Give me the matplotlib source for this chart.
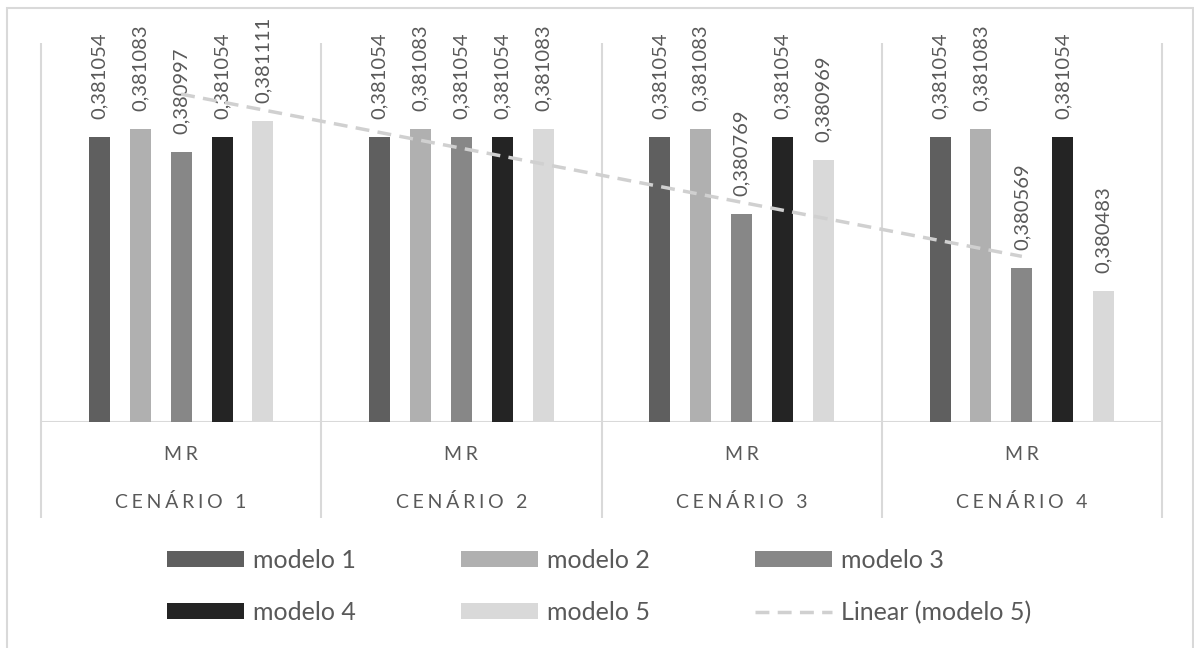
import matplotlib
matplotlib.use('Agg')
import matplotlib.pyplot as plt
import numpy as np
from matplotlib.patches import Rectangle

cenarios = ['CENÁRIO 1', 'CENÁRIO 2', 'CENÁRIO 3', 'CENÁRIO 4']
metrica = 'MR'
modelos = ['modelo 1', 'modelo 2', 'modelo 3', 'modelo 4', 'modelo 5']
modelo_1 = [0.381054, 0.381054, 0.381054, 0.381054]
modelo_2 = [0.381083, 0.381083, 0.381083, 0.381083]
modelo_3 = [0.380997, 0.381054, 0.380769, 0.380569]
modelo_4 = [0.381054, 0.381054, 0.381054, 0.381054]
modelo_5 = [0.381111, 0.381083, 0.380969, 0.380483]

cores = ['#5f5f5f', '#b0b0b0', '#878787', '#242424', '#d9d9d9']
cinza_texto = '#595959'
cinza_linha = '#d9d9d9'

plt.rcParams['font.family'] = ['Lato', 'DejaVu Sans']

fig = plt.figure(figsize=(11.94, 6.48), dpi=100)
ax = fig.add_axes([41 / 1194, 1 - 422 / 648, (1162 - 41) / 1194, (422 - 43) / 648])

x = np.arange(len(cenarios))
series = [modelo_1, modelo_2, modelo_3, modelo_4, modelo_5]
passo = 0.146
largura = 0.075
barras = []
for i, (vals, cor) in enumerate(zip(series, cores)):
    pos = x + (i - 2) * passo
    b = ax.bar(pos, vals, width=largura, color=cor, zorder=2)
    barras.append(b)
    for xp, v in zip(pos, vals):
        ax.annotate(f'{v:.6f}'.replace('.', ','), (xp, v), xytext=(0, 13),
                    textcoords='offset points', rotation=90, ha='center',
                    va='bottom', fontsize=14.5, color=cinza_texto,
                    annotation_clip=False)

# linha de tendencia linear do modelo 5
coef = np.polyfit(x + 1, modelo_5, 1)
tend = np.polyval(coef, x + 1)
linha, = ax.plot(x, tend, color='#d0d0d0', lw=2.5, dashes=(4, 2.4), zorder=3)

ax.set_xlim(-0.5, 3.5)
ax.set_ylim(0.38, 0.3814)
for s in ax.spines.values():
    s.set_visible(False)
ax.set_xticks([])
ax.set_yticks([])

ax.axhline(0.38, color=cinza_linha, lw=1.5, zorder=1)
ax.vlines(np.arange(len(cenarios) + 1) - 0.5, -0.253, 1,
          transform=ax.get_xaxis_transform(), color=cinza_linha, lw=1.5,
          clip_on=False)

# rotulos das categorias com espacamento entre letras
esp = '\u2009\u200a'
for i, c in enumerate(cenarios):
    ax.text(i, -0.087, esp.join(metrica), transform=ax.get_xaxis_transform(),
            ha='center', va='center', fontsize=14, color=cinza_texto)
    ax.text(i, -0.211, esp.join(c), transform=ax.get_xaxis_transform(),
            ha='center', va='center', fontsize=14, color=cinza_texto)

handles = [barras[0], barras[3], barras[1], barras[4], barras[2], linha]
labels = [modelos[0], modelos[3], modelos[1], modelos[4], modelos[2],
          'Linear (modelo 5)']
leg = fig.legend(handles, labels, ncol=3, loc='center',
                 bbox_to_anchor=(599 / 1194, 1 - 586.5 / 648), frameon=False,
                 fontsize=18, handlelength=3.1, handleheight=0.6,
                 handletextpad=0.35, columnspacing=4.2, labelspacing=1.16)
for t in leg.get_texts():
    t.set_color(cinza_texto)

fig.patches.append(Rectangle((7 / 1194, -0.01), (1193 - 7) / 1194, 1.01 - 8 / 648,
                             transform=fig.transFigure, fill=False,
                             ec=cinza_linha, lw=1.5))

fig.savefig('out.png', dpi=100)
